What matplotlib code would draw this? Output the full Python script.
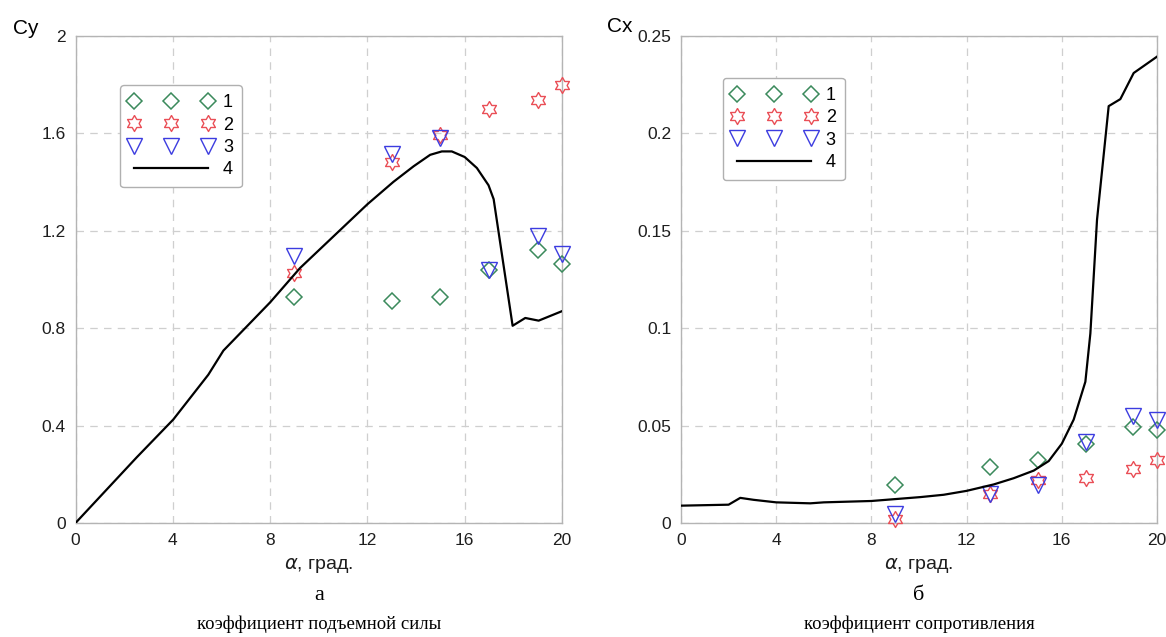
import matplotlib
matplotlib.use('Agg')
import matplotlib.pyplot as plt
import numpy as np

plt.rcParams['font.family'] = ['Liberation Sans', 'DejaVu Sans']

# --- data ---
alpha_exp = [9, 13, 15, 17, 19, 20]

cy_1 = [0.93, 0.913, 0.93, 1.037, 1.122, 1.064]
cy_2 = [1.025, 1.482, 1.592, 1.701, 1.738, 1.798]
cy_3 = [1.097, 1.515, 1.582, 1.04, 1.18, 1.104]

cx_1 = [0.0195, 0.0288, 0.0324, 0.0407, 0.0495, 0.0478]
cx_2 = [0.0018, 0.015, 0.0221, 0.023, 0.0278, 0.0322]
cx_3 = [0.0048, 0.015, 0.0195, 0.0416, 0.0548, 0.053]

alpha_cy = [0, 2.51, 4.02, 5.46, 6.08, 8, 9.23, 12, 13.07, 13.9, 14.58, 15.06,
            15.47, 16, 16.5, 16.98, 17.19, 17.97, 18.49, 19.04, 20]
cy_4 = [0, 0.269, 0.425, 0.609, 0.708, 0.906, 1.047, 1.309, 1.401, 1.465, 1.512,
        1.526, 1.526, 1.503, 1.458, 1.387, 1.33, 0.81, 0.842, 0.831, 0.87]

alpha_cx = [0, 2.0, 2.49, 3.05, 4, 5.43, 6.0, 8, 10.06, 11.04, 12, 13.14, 13.98,
            14.82, 15.45, 16, 16.5, 16.99, 17.2, 17.48, 17.97, 18.46, 19.02, 20]
cx_4 = [0.0089, 0.0094, 0.0129, 0.0119, 0.0106, 0.0101, 0.0106, 0.0113, 0.0133,
        0.0145, 0.0165, 0.0198, 0.023, 0.0269, 0.0318, 0.0407, 0.0531, 0.0725,
        0.0973, 0.1557, 0.214, 0.2176, 0.231, 0.2394]

x_ticks = [0, 4, 8, 12, 16, 20]
cy_ticks = [0, 0.4, 0.8, 1.2, 1.6, 2]
cy_labels = ['0', '0.4', '0.8', '1.2', '1.6', '2']
cx_ticks = [0, 0.05, 0.1, 0.15, 0.2, 0.25]
cx_labels = ['0', '0.05', '0.1', '0.15', '0.2', '0.25']

# hexagram marker shape
ang = np.pi / 2 + np.arange(12) * np.pi / 6
rad = np.where(np.arange(12) % 2 == 0, 1.0, 1 / np.sqrt(3))
hexagram = np.column_stack([rad * np.cos(ang), rad * np.sin(ang)])
hexagram = np.vstack([hexagram, hexagram[:1]])

green = '#3b8a5c'
red = '#ea4f57'
blue = '#3c3ce0'
grey = '#b4b4b4'

fig = plt.figure(figsize=(11.66, 6.37), dpi=100)
ax1 = fig.add_axes([75.5 / 1166, 1 - 523 / 637, 486.5 / 1166, 487 / 637])
ax2 = fig.add_axes([681 / 1166, 1 - 523 / 637, 476 / 1166, 487 / 637])


def draw_panel(ax, x4, y4, y1, y2, y3, yticks, ylabels, ymax, leg_anchor):
    ax.plot(alpha_exp, y1, linestyle='none', marker='D', ms=8.2, mfc='none',
            mec=green, mew=1.1, label='1', clip_on=False, zorder=3)
    ax.plot(alpha_exp, y2, linestyle='none', marker=hexagram, ms=11.5, mfc='none',
            mec=red, mew=1.0, label='2', clip_on=False, zorder=3)
    ax.plot(alpha_exp, y3, linestyle='none', marker='v', ms=11.5, mfc='none',
            mec=blue, mew=1.0, label='3', clip_on=False, zorder=3)
    ax.plot(x4, y4, color='black', lw=1.6, label='4', zorder=4)

    ax.set_xlim(0, 20)
    ax.set_ylim(0, ymax)
    ax.set_xticks(x_ticks)
    ax.set_yticks(yticks)
    ax.set_yticklabels(ylabels)
    ax.tick_params(length=0, labelsize=12.5, labelcolor='#1e1e1e', pad=7)
    ax.grid(True, linestyle=(0, (6, 5)), color='#cfcfcf', lw=0.9)
    for s in ax.spines.values():
        s.set_color(grey)
        s.set_linewidth(1.0)
    ax.set_xlabel(r'$\alpha$, град.', fontsize=14, color='#1e1e1e', labelpad=6)

    leg = ax.legend(loc='upper left', bbox_to_anchor=leg_anchor, borderaxespad=0,
                    numpoints=3, handlelength=4.7, handletextpad=0.5,
                    labelspacing=0.3, borderpad=0.5, fontsize=13,
                    fancybox=True, framealpha=1, edgecolor='#b0b0b0')
    leg.get_frame().set_linewidth(1.0)


draw_panel(ax1, alpha_cy, cy_4, cy_1, cy_2, cy_3, cy_ticks, cy_labels, 2,
           (0.0915, 0.899))
draw_panel(ax2, alpha_cx, cx_4, cx_1, cx_2, cx_3, cx_ticks, cx_labels, 0.25,
           (0.088, 0.914))

fig.text(13 / 1166, 1 - 28 / 637, 'Cy', fontsize=15, va='center', ha='left')
fig.text(607 / 1166, 1 - 27 / 637, 'Cx', fontsize=15, va='center', ha='left')

fig.text(319 / 1166, 1 - 596 / 637, 'а', family='Liberation Serif', fontsize=16,
         ha='center', va='center')
fig.text(319 / 1166, 1 - 624 / 637, 'коэффициент подъемной силы',
         family='Liberation Serif', fontsize=13.5, ha='center', va='center')
fig.text(919 / 1166, 1 - 596 / 637, 'б', family='Liberation Serif', fontsize=16,
         ha='center', va='center')
fig.text(919 / 1166, 1 - 624 / 637, 'коэффициент сопротивления',
         family='Liberation Serif', fontsize=13.5, ha='center', va='center')

fig.savefig('out.png', dpi=100)
